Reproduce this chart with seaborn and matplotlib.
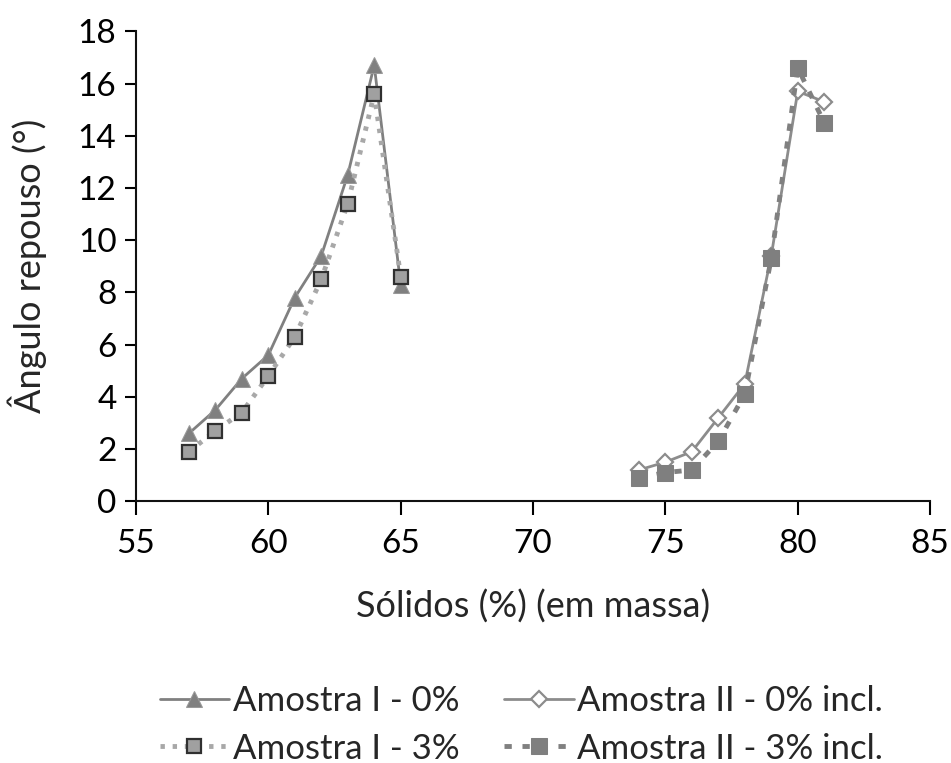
import matplotlib
matplotlib.use("Agg")
import matplotlib.pyplot as plt
import seaborn as sns
import pandas as pd

# Data
x_I = [57, 58, 59, 60, 61, 62, 63, 64, 65]
y_I_0 = [2.6, 3.5, 4.7, 5.6, 7.8, 9.4, 12.5, 16.7, 8.3]
y_I_3 = [1.9, 2.7, 3.4, 4.8, 6.3, 8.5, 11.4, 15.6, 8.6]
x_II = [74, 75, 76, 77, 78, 79, 80, 81]
y_II_0 = [1.2, 1.5, 1.9, 3.2, 4.5, 9.4, 15.7, 15.3]
y_II_3 = [0.9, 1.1, 1.2, 2.3, 4.1, 9.3, 16.6, 14.5]

labels = ["Amostra I - 0%", "Amostra I - 3%", "Amostra II - 0% incl.", "Amostra II - 3% incl."]
x_ticks = [55, 60, 65, 70, 75, 80, 85]
y_ticks = [0, 2, 4, 6, 8, 10, 12, 14, 16, 18]

sns.set_theme(style="white")
plt.rcParams['font.family'] = ['Lato', 'DejaVu Sans']

fig = plt.figure(figsize=(9.51, 7.63), dpi=100)
ax = fig.add_axes([0.143, 0.343, 0.835, 0.616])

sns.lineplot(x=x_I, y=y_I_0, ax=ax, color="#808080", linewidth=2,
             marker="^", markersize=11, markerfacecolor="#808080",
             markeredgecolor="#999999", label=labels[0])
sns.lineplot(x=x_I, y=y_I_3, ax=ax, color="#a8a8a8", linewidth=3.5,
             linestyle=(0, (0.9, 1.6)),
             marker="s", markersize=10, markerfacecolor="#a0a0a0",
             markeredgecolor="#303030", markeredgewidth=1.6, label=labels[1])
sns.lineplot(x=x_II, y=y_II_0, ax=ax, color="#8c8c8c", linewidth=2,
             marker="D", markersize=8, markerfacecolor="white",
             markeredgecolor="#8c8c8c", markeredgewidth=1.6, label=labels[2])
sns.lineplot(x=x_II, y=y_II_3, ax=ax, color="#808080", linewidth=3.5,
             linestyle=(0, (1.5, 2.2)),
             marker="s", markersize=11, markerfacecolor="#7f7f7f",
             markeredgecolor="#7f7f7f", label=labels[3])

ax.set_xlim(55, 85)
ax.set_ylim(0, 18)
ax.set_xticks(x_ticks)
ax.set_yticks(y_ticks)
ax.tick_params(axis="both", labelsize=24, direction="out", length=8, width=1.5,
               colors="black", left=True, bottom=True, pad=6)
ax.tick_params(axis="x", length=10, pad=10)
for s in ["top", "right"]:
    ax.spines[s].set_visible(False)
for s in ["left", "bottom"]:
    ax.spines[s].set_color("#111111")
    ax.spines[s].set_linewidth(1.5)
ax.set_xlabel("Sólidos (%) (em massa)", fontsize=26, labelpad=22)
ax.set_ylabel("Ângulo repouso (°)", fontsize=26, labelpad=22)

handles, labs = ax.get_legend_handles_labels()
ax.get_legend().remove()
fig.legend(handles, labs, ncol=2, loc="lower left", bbox_to_anchor=(0.135, -0.043),
           frameon=False, fontsize=25, handlelength=2.0, handletextpad=0.1,
           columnspacing=1.3, labelspacing=0.45)

fig.savefig("out.png", dpi=100)
